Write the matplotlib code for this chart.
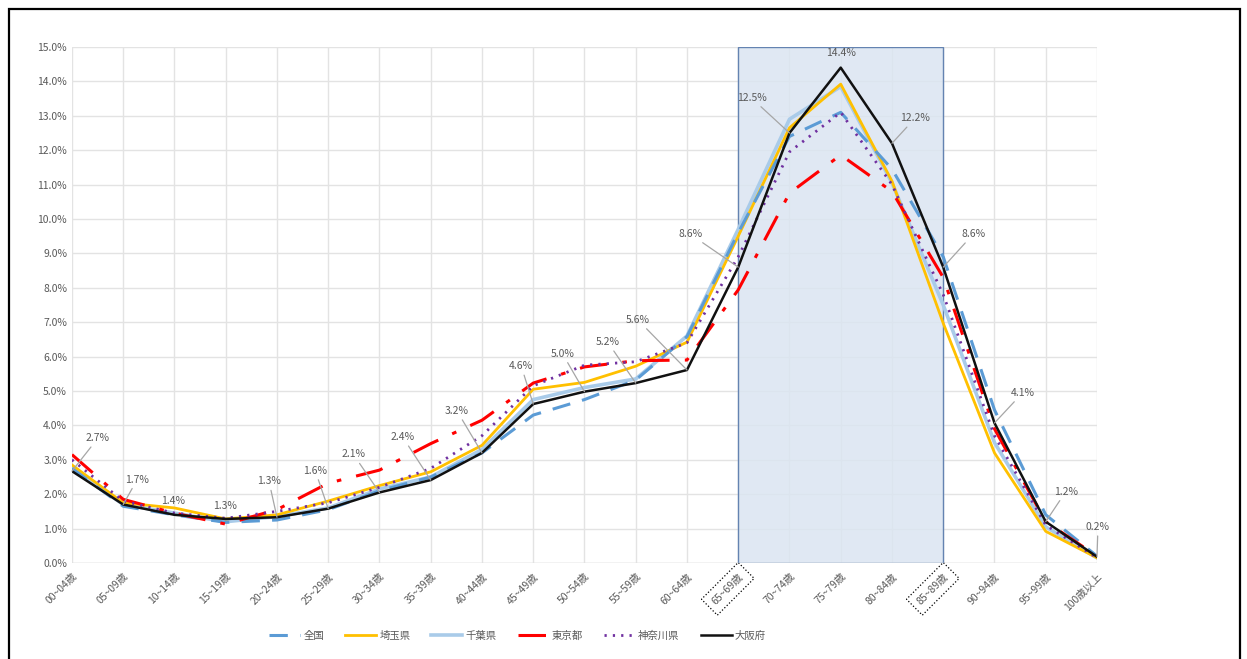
import matplotlib
matplotlib.use('Agg')
from matplotlib import pyplot as plt
from matplotlib.patches import Rectangle

plt.rcParams['font.family'] = ['Noto Sans CJK JP', 'DejaVu Sans']

# age groups
ages = ['00~04歳', '05~09歳', '10~14歳', '15~19歳', '20~24歳', '25~29歳', '30~34歳',
        '35~39歳', '40~44歳', '45~49歳', '50~54歳', '55~59歳', '60~64歳', '65~69歳',
        '70~74歳', '75~79歳', '80~84歳', '85~89歳', '90~94歳', '95~99歳', '100歳以上']

# share of population (%) by region
zenkoku = [2.75, 1.65, 1.40, 1.18, 1.25, 1.55, 2.10, 2.50, 3.20, 4.30, 4.75, 5.32, 6.58,
           9.60, 12.40, 13.10, 11.45, 8.90, 4.45, 1.40, 0.20]
saitama = [2.85, 1.75, 1.60, 1.28, 1.40, 1.80, 2.25, 2.65, 3.42, 5.05, 5.25, 5.72, 6.42,
           9.50, 12.65, 13.92, 11.10, 6.97, 3.20, 0.92, 0.15]
chiba = [2.75, 1.70, 1.45, 1.20, 1.35, 1.60, 2.15, 2.50, 3.30, 4.75, 5.10, 5.35, 6.60,
         9.70, 12.90, 13.85, 11.05, 7.50, 3.50, 1.05, 0.15]
tokyo = [3.15, 1.85, 1.45, 1.13, 1.55, 2.32, 2.70, 3.47, 4.15, 5.23, 5.70, 5.88, 5.90,
         7.94, 10.75, 11.86, 10.80, 8.30, 3.90, 1.20, 0.20]
kanagawa = [3.00, 1.80, 1.45, 1.30, 1.50, 1.75, 2.20, 2.75, 3.70, 5.15, 5.75, 5.85, 6.40,
            8.90, 11.95, 13.10, 11.00, 7.80, 3.70, 1.10, 0.15]
osaka = [2.67, 1.70, 1.40, 1.28, 1.33, 1.58, 2.05, 2.41, 3.20, 4.62, 4.98, 5.23, 5.61,
         8.60, 12.50, 14.40, 12.20, 8.60, 4.07, 1.20, 0.18]

osaka_labels = ['2.7%', '1.7%', '1.4%', '1.3%', '1.3%', '1.6%', '2.1%', '2.4%', '3.2%', '4.6%',
                '5.0%', '5.2%', '5.6%', '8.6%', '12.5%', '14.4%', '12.2%', '8.6%', '4.1%',
                '1.2%', '0.2%']

# label offsets in pixels from the point, and whether a leader line is drawn
label_off = [(26, 33), (14, 25), (-1, 14), (-1, 13), (-8, 36), (-13, 38), (-26, 38), (-28, 43),
             (-25, 42), (-12, 38), (-22, 38), (-28, 41), (-49, 50), (-48, 33), (-38, 35),
             (0, 15), (23, 25), (30, 33), (28, 30), (20, 30), (1, 30)]
label_line = [True, True, False, False, True, True, True, True, True, True, True, True, True,
              True, True, False, True, True, True, True, True]

fig = plt.figure(figsize=(12.47, 6.59), dpi=100)
ax = fig.add_axes([0.0577, 0.1457, 0.822, 0.783])

x = list(range(len(ages)))

ax.axvspan(13, 17, ymin=0, ymax=1, fc='#dbe5f1', ec='#4f72a8', lw=1.0, alpha=0.85, zorder=1)

ax.plot(x, chiba, color='#a9cbe9', lw=2.6, zorder=3, label='千葉県')
ax.plot(x, saitama, color='#ffc000', lw=2.0, zorder=3, label='埼玉県')
ax.plot(x, zenkoku, color='#5b9bd5', lw=2.2, dashes=(6, 4), zorder=4, label='全国')
ax.plot(x, tokyo, color='#ff0000', lw=2.2, dashes=(9, 5, 1.5, 5), zorder=4, label='東京都')
ax.plot(x, kanagawa, color='#7030a0', lw=2.0, dashes=(0.8, 2.2), zorder=5, label='神奈川県')
ax.plot(x, osaka, color='#111111', lw=1.8, zorder=6, label='大阪府')

for i, (v, t) in enumerate(zip(osaka, osaka_labels)):
    dx, dy = label_off[i]
    ap = dict(arrowstyle='-', color='#a6a6a6', lw=0.9, shrinkA=1, shrinkB=0) if label_line[i] else None
    ax.annotate(t, xy=(i, v), xytext=(dx, dy), textcoords='offset pixels',
                ha='center', va='center', fontsize=7.5, color='#595959',
                arrowprops=ap, zorder=7)

ax.set_xlim(0, len(ages) - 1)
ax.set_ylim(0, 15)
ax.set_yticks(range(0, 16))
ax.set_yticklabels([f'{v:.1f}%' for v in range(0, 16)])
ax.set_xticks(x)
ax.set_xticklabels(ages, rotation=45, ha='right', rotation_mode='anchor')
ax.tick_params(axis='both', length=0, labelsize=7.5, colors='#595959')
ax.tick_params(axis='x', pad=6)
ax.grid(True, color='#e3e3e3', lw=1.0, zorder=0)
ax.set_axisbelow(True)
for s in ax.spines.values():
    s.set_visible(False)
ax.axhline(0, color='#d9d9d9', lw=1.0, zorder=2)

# dotted boxes around two tick labels
for lab in ax.get_xticklabels():
    if lab.get_text() in ('65~69歳', '85~89歳'):
        lab.set_bbox(dict(boxstyle='square,pad=0.6', fc='none', ec='black', ls=':', lw=0.9))

handles, labels = ax.get_legend_handles_labels()
order = ['全国', '埼玉県', '千葉県', '東京都', '神奈川県', '大阪府']
hl = dict(zip(labels, handles))
leg = fig.legend([hl[k] for k in order], order, loc='center', bbox_to_anchor=(0.415, 0.035),
                 ncol=6, frameon=False, fontsize=7.5, handlelength=3.0, columnspacing=2.0,
                 handletextpad=0.3)
for t in leg.get_texts():
    t.set_color('#595959')

# outer frame
fig.patches.append(Rectangle((0.007, -0.02), 0.987, 1.007, transform=fig.transFigure,
                             fill=False, ec='black', lw=1.6))

fig.savefig('out.png', dpi=100)
